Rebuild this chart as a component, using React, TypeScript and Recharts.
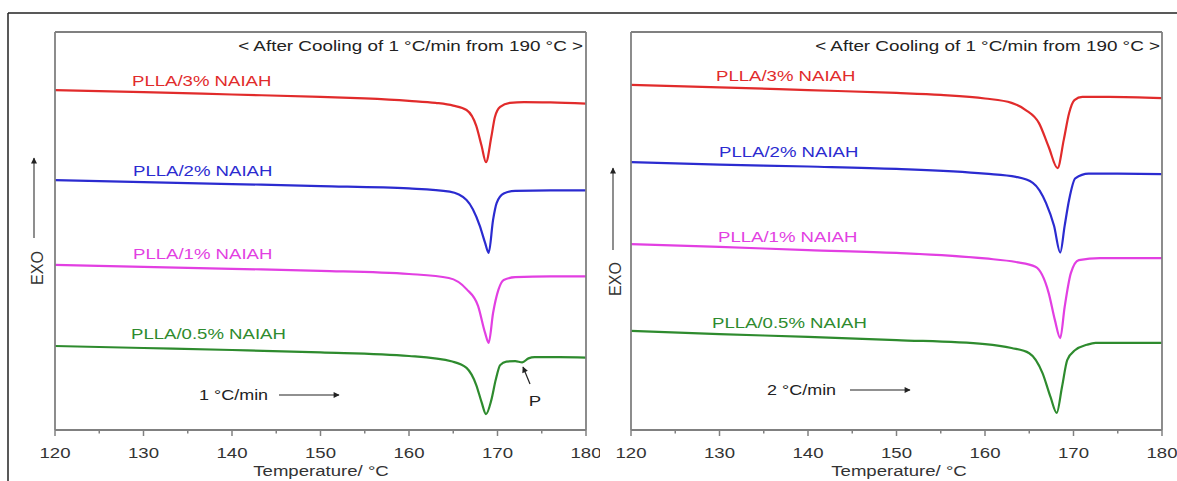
import React from 'react';
import { LineChart, Line, XAxis, YAxis } from 'recharts';

type Pt = [number, number];

// DSC heating scans, [temperature °C, heat flow a.u.], exo up
// panel 1: heated at 1 °C/min
const slow3: Pt[] = [
  [120, 85.4], [130, 84.9], [140, 84.3], [150, 83.7], [155, 83.3], [160, 82.7], [163, 82.2],
  [165, 81.5], [166.5, 80.4], [167.6, 76.4], [168.2, 71.4], [168.7, 67.3], [169.3, 73.6],
  [169.7, 78.6], [170.3, 81.2], [171.4, 82.2], [173, 82.4], [176, 82.3], [180, 82.0],
];
const slow2: Pt[] = [
  [120, 62.8], [130, 62.3], [140, 61.8], [150, 61.3], [160, 60.7], [164.6, 59.9], [166.5, 57.8],
  [168, 51.3], [168.6, 47.0], [169, 44.5], [169.5, 52.8], [169.9, 57.0], [170.7, 59.4],
  [172, 60.1], [176, 60.2], [180, 60.2],
];
const slow1: Pt[] = [
  [120, 41.5], [130, 41.0], [140, 40.5], [150, 40.0], [160, 39.2], [164.5, 38.2], [166.5, 35.4],
  [167.8, 31.2], [168.6, 24.4], [169, 21.9], [169.5, 29.4], [170.1, 35.2], [170.7, 37.7],
  [172, 38.4], [176, 38.6], [180, 38.6],
];
const slow05: Pt[] = [
  [120, 21.1], [130, 20.6], [140, 20.1], [150, 19.5], [160, 18.6], [164.9, 17.2], [166.5, 15.6],
  [167.6, 11.3], [168.2, 7.0], [168.7, 4.0], [169.3, 7.5], [169.8, 12.6], [170.3, 16.3],
  [171, 17.2], [172, 17.3], [172.8, 17.0], [173.5, 18.0], [174.2, 18.3], [177, 18.3], [180, 18.2],
];

// panel 2: heated at 2 °C/min
const fast3: Pt[] = [
  [120, 86.7], [130, 86.1], [140, 85.4], [150, 84.7], [155, 84.2], [160, 83.3], [163, 82.2],
  [164.6, 80.4], [166.1, 77.1], [167.2, 71.1], [168.2, 65.8], [168.9, 72.9], [169.5, 79.6],
  [170.1, 82.9], [171, 83.7], [174, 83.7], [180, 83.4],
];
const fast2: Pt[] = [
  [120, 67.3], [130, 66.7], [140, 66.2], [150, 65.6], [160, 64.4], [163.5, 63.6], [165.4, 62.1],
  [166.9, 57.0], [167.8, 51.3], [168.5, 44.6], [169, 51.3], [169.5, 57.8], [170.2, 63.2],
  [171.7, 64.4], [175, 64.4], [180, 64.3],
];
const fast1: Pt[] = [
  [120, 46.7], [130, 46.0], [140, 45.2], [150, 44.5], [160, 43.1], [163.5, 42.2], [165.7, 41.0],
  [167.2, 34.4], [167.9, 27.6], [168.5, 23.1], [169, 30.9], [169.7, 39.4], [170.6, 42.7],
  [173, 43.2], [180, 43.2],
];
const fast05: Pt[] = [
  [120, 24.9], [130, 24.1], [140, 23.4], [150, 22.6], [160, 21.6], [163, 20.6], [165, 19.3],
  [166.5, 14.3], [167.4, 8.3], [168.1, 4.3], [168.7, 10.8], [169.3, 17.6], [170.2, 20.1],
  [171.5, 21.4], [172.5, 21.9], [180, 21.9],
];

const majorTicks = [120, 130, 140, 150, 160, 170, 180];
const minorTicks = [125, 135, 145, 155, 165, 175];
const allTicks = [...majorTicks, ...minorTicks].sort((a, b) => a - b);

const sampleNames = ['PLLA/3% NAIAH', 'PLLA/2% NAIAH', 'PLLA/1% NAIAH', 'PLLA/0.5% NAIAH'];
const seriesColors = ['#e12b2b', '#2b2bd0', '#e23fe2', '#2e8b2e'];
const panelTitle = '< After Cooling of 1 °C/min from 190 °C >';
const rateLabels = ['1 °C/min', '2 °C/min'];
const xTitle = 'Temperature/ °C';

const FONT = '"Liberation Sans", Arial, sans-serif';
const BOX = '#808080';
const SX = 1.24; // source figure is stretched horizontally

const toRows = (pts: Pt[]) => pts.map(([t, hf]) => ({ t, hf }));

const Stretch = ({ x, y, anchor = 'start', size = 15, fill = '#222', children }: any) => (
  <text
    transform={`translate(${x} ${y}) scale(${SX} 1)`}
    textAnchor={anchor}
    fontFamily={FONT}
    fontSize={size}
    fill={fill}
  >
    {children}
  </text>
);

const AxisTick = ({ x, y, payload }: any) => {
  const major = majorTicks.includes(payload.value);
  return (
    <g>
      <line x1={x} x2={x} y1={y} y2={y + (major ? 6 : 3.5)} stroke={BOX} strokeWidth={1.5} />
      {major && (
        <Stretch x={x} y={y + 27.5} anchor="middle" size={15} fill="#333">
          {payload.value}
        </Stretch>
      )}
    </g>
  );
};

function Panel({ left, width, series }: { left: number; width: number; series: Pt[][] }) {
  return (
    <div style={{ position: 'absolute', left, top: 0 }}>
      <LineChart width={width} height={481} margin={{ top: 31, left: 54, right: width - 587, bottom: 50 }}>
        <XAxis
          dataKey="t"
          type="number"
          domain={[120, 180]}
          ticks={allTicks}
          interval={0}
          height={1}
          tickSize={0}
          tickMargin={0}
          tickLine={false}
          tick={<AxisTick />}
          axisLine={{ stroke: BOX, strokeWidth: 1.8 }}
        />
        <XAxis
          xAxisId="top"
          orientation="top"
          dataKey="t"
          type="number"
          domain={[120, 180]}
          ticks={majorTicks}
          height={1}
          tick={false}
          tickLine={false}
          axisLine={{ stroke: BOX, strokeWidth: 1.8 }}
        />
        <YAxis domain={[0, 100]} width={1} tick={false} tickLine={false} axisLine={{ stroke: BOX, strokeWidth: 1.8 }} />
        <YAxis yAxisId="r" orientation="right" domain={[0, 100]} width={1} tick={false} tickLine={false} axisLine={{ stroke: BOX, strokeWidth: 1.8 }} />
        {series.map((pts, i) => (
          <Line
            key={sampleNames[i]}
            data={toRows(pts)}
            dataKey="hf"
            type="monotone"
            stroke={seriesColors[i]}
            strokeWidth={2.2}
            dot={false}
            isAnimationActive={false}
          />
        ))}
      </LineChart>
    </div>
  );
}

export default function App() {
  const leftLabels = [[132, 85.5], [133, 175.5], [133, 258.5], [131, 338.5]];
  const rightLabels = [[716, 81], [719, 157], [718, 241.5], [712, 328]];
  return (
    <div style={{ position: 'absolute', left: 0, top: 0, width: 1177, height: 481, background: '#fff', overflow: 'hidden' }}>
      <Panel left={0} width={600} series={[slow3, slow2, slow1, slow05]} />
      <Panel left={576} width={601} series={[fast3, fast2, fast1, fast05]} />
      <svg width={1177} height={481} style={{ position: 'absolute', left: 0, top: 0, pointerEvents: 'none' }}>
        <defs>
          <marker id="head" viewBox="0 0 10 10" refX="9" refY="5" markerWidth="7" markerHeight="5" orient="auto">
            <path d="M0,0 L10,5 L0,10 z" fill="#222" />
          </marker>
        </defs>
        <line x1={8} y1={13} x2={1177} y2={13} stroke="#222" strokeWidth={1.5} />
        <line x1={8} y1={13} x2={8} y2={481} stroke="#222" strokeWidth={1.5} />

        <Stretch x={583} y={50.5} anchor="end" size={15.2}>{panelTitle}</Stretch>
        <Stretch x={1160} y={50.5} anchor="end" size={15.2}>{panelTitle}</Stretch>

        {sampleNames.map((n, i) => (
          <Stretch key={'l' + n} x={leftLabels[i][0]} y={leftLabels[i][1]} fill={seriesColors[i]}>{n}</Stretch>
        ))}
        {sampleNames.map((n, i) => (
          <Stretch key={'r' + n} x={rightLabels[i][0]} y={rightLabels[i][1]} fill={seriesColors[i]}>{n}</Stretch>
        ))}

        <Stretch x={199} y={400} size={14.5}>{rateLabels[0]}</Stretch>
        <line x1={279} y1={395} x2={339} y2={395} stroke="#222" strokeWidth={1.2} markerEnd="url(#head)" />
        <Stretch x={767} y={395} size={14.5}>{rateLabels[1]}</Stretch>
        <line x1={850} y1={390} x2={910} y2={390} stroke="#222" strokeWidth={1.2} markerEnd="url(#head)" />

        <line x1={530} y1={384} x2={523} y2={367} stroke="#222" strokeWidth={1.2} markerEnd="url(#head)" />
        <Stretch x={535} y={405.5} anchor="middle" size={15}>P</Stretch>

        <line x1={34} y1={238} x2={34} y2={158} stroke="#444" strokeWidth={1.2} markerEnd="url(#head)" />
        <text transform="translate(43 268) rotate(-90)" textAnchor="middle" fontFamily={FONT} fontSize={16} fill="#333">EXO</text>
        <line x1={613} y1={250} x2={613} y2={168} stroke="#444" strokeWidth={1.2} markerEnd="url(#head)" />
        <text transform="translate(621 279) rotate(-90)" textAnchor="middle" fontFamily={FONT} fontSize={16} fill="#333">EXO</text>

        <Stretch x={321} y={476} anchor="middle" size={15} fill="#333">{xTitle}</Stretch>
        <Stretch x={899} y={476} anchor="middle" size={15} fill="#333">{xTitle}</Stretch>
      </svg>
    </div>
  );
}
